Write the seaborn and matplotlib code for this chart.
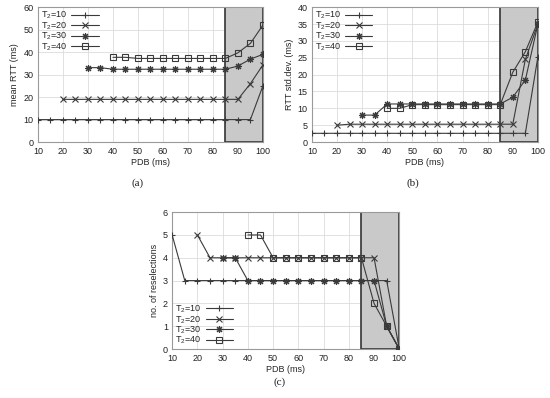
import matplotlib
matplotlib.use("Agg")
import matplotlib.pyplot as plt
import seaborn as sns

# ---------------- data ----------------
pdb_10 = [10, 15, 20, 25, 30, 35, 40, 45, 50, 55, 60, 65, 70, 75, 80, 85, 90, 95, 100]
pdb_20 = [20, 25, 30, 35, 40, 45, 50, 55, 60, 65, 70, 75, 80, 85, 90, 95, 100]
pdb_30 = [30, 35, 40, 45, 50, 55, 60, 65, 70, 75, 80, 85, 90, 95, 100]
pdb_40 = [40, 45, 50, 55, 60, 65, 70, 75, 80, 85, 90, 95, 100]

series_labels = ["T$_2$=10", "T$_2$=20", "T$_2$=30", "T$_2$=40"]

# (a) mean RTT (ms)
rtt_t10 = [10, 10, 10, 10, 10, 10, 10, 10, 10, 10, 10, 10, 10, 10, 10, 10, 10, 10, 25]
rtt_t20 = [19, 19, 19, 19, 19, 19, 19, 19, 19, 19, 19, 19, 19, 19, 19, 26, 34.3]
rtt_t30 = [33.1, 33.1, 32.4, 32.4, 32.4, 32.4, 32.4, 32.4, 32.4, 32.4, 32.4, 32.4, 33.8, 36.9, 39]
rtt_t40 = [37.7, 37.7, 37.2, 37.2, 37.2, 37.2, 37.2, 37.2, 37.2, 37.2, 39.7, 43.9, 52]

# (b) RTT std.dev. (ms)
sd_t10 = [2.6, 2.6, 2.6, 2.6, 2.6, 2.6, 2.6, 2.6, 2.6, 2.6, 2.6, 2.6, 2.6, 2.6, 2.6, 2.6, 2.6, 2.6, 25.3]
sd_t20 = [5.0, 5.3, 5.3, 5.3, 5.3, 5.3, 5.3, 5.3, 5.3, 5.3, 5.3, 5.3, 5.3, 5.3, 5.3, 24.5, 35]
sd_t30 = [8.0, 8.0, 11.3, 11.3, 11.3, 11.3, 11.3, 11.3, 11.3, 11.3, 11.3, 11.3, 13.3, 18.4, 35]
sd_t40 = [10.0, 10.0, 11.1, 11.1, 11.1, 11.1, 11.1, 11.1, 11.1, 11.1, 20.7, 26.8, 35.6]

# (c) number of reselections
rs_t10 = [5, 3, 3, 3, 3, 3, 3, 3, 3, 3, 3, 3, 3, 3, 3, 3, 3, 3, 0]
rs_t20 = [5, 4, 4, 4, 4, 4, 4, 4, 4, 4, 4, 4, 4, 4, 4, 1, 0]
rs_t30 = [4, 4, 3, 3, 3, 3, 3, 3, 3, 3, 3, 3, 3, 1, 0]
rs_t40 = [5, 5, 4, 4, 4, 4, 4, 4, 4, 4, 2, 1, 0]

x_ticks = [10, 20, 30, 40, 50, 60, 70, 80, 90, 100]
shade_from, shade_to = 85, 100

# ---------------- style ----------------
sns.set_style("whitegrid")
plt.rcParams["font.family"] = ["Liberation Sans", "DejaVu Sans"]
plt.rcParams["mathtext.fontset"] = "custom"
plt.rcParams["mathtext.rm"] = "Liberation Sans"
plt.rcParams["mathtext.it"] = "Liberation Sans"

LINE = "#3a3a3a"
FS = 6.5
markers = [
    dict(marker="+", markersize=5, mew=0.8),
    dict(marker="x", markersize=4, mew=0.8),
    dict(marker=(8, 2, 0), markersize=5, mew=0.8),
    dict(marker="s", markersize=4.2, mew=0.8, fillstyle="none"),
]

fig = plt.figure(figsize=(5.5, 3.98), dpi=100)
ax_a = fig.add_axes([0.069, 0.643, 0.409, 0.339])
ax_b = fig.add_axes([0.567, 0.643, 0.411, 0.339])
ax_c = fig.add_axes([0.313, 0.123, 0.413, 0.344])


def draw(ax, xs, ys, ylim, yticks, ylabel, legend_anchor, legend_loc):
    ax.set_axisbelow(True)
    ax.grid(True, color="#dcdcdc", lw=0.6)
    ax.axvspan(shade_from, shade_to, facecolor="#c9c9c9", edgecolor="#333333",
               lw=1.2, zorder=1)
    for x, y, lab, mk in zip(xs, ys, series_labels, markers):
        sns.lineplot(x=x, y=y, ax=ax, color=LINE, lw=0.8, label=lab,
                     markeredgecolor=LINE, zorder=3, **mk)
    ax.set_xlim(10, 100)
    ax.set_ylim(*ylim)
    ax.set_xticks(x_ticks)
    ax.set_yticks(yticks)
    ax.tick_params(labelsize=FS, length=0, colors="#222222")
    ax.tick_params(axis="x", pad=3.5)
    ax.tick_params(axis="y", pad=3)
    ax.set_xlabel("PDB (ms)", fontsize=FS, labelpad=1.5)
    ax.set_ylabel(ylabel, fontsize=FS, labelpad=3)
    for s in ax.spines.values():
        s.set_color("#9a9a9a")
        s.set_linewidth(0.8)
    leg = ax.legend(loc=legend_loc, bbox_to_anchor=legend_anchor, frameon=False,
                    fontsize=FS, markerfirst=False, handlelength=3.0,
                    labelspacing=-0.12, borderpad=0.1, handletextpad=0.5,
                    borderaxespad=0.2)
    return leg


draw(ax_a, [pdb_10, pdb_20, pdb_30, pdb_40],
     [rtt_t10, rtt_t20, rtt_t30, rtt_t40],
     (0, 60), [0, 10, 20, 30, 40, 50, 60], "mean RTT (ms)",
     (0.0, 1.0), "upper left")
draw(ax_b, [pdb_10, pdb_20, pdb_30, pdb_40],
     [sd_t10, sd_t20, sd_t30, sd_t40],
     (0, 40), [0, 5, 10, 15, 20, 25, 30, 35, 40], "RTT std.dev. (ms)",
     (0.0, 1.0), "upper left")
draw(ax_c, [pdb_10, pdb_20, pdb_30, pdb_40],
     [rs_t10, rs_t20, rs_t30, rs_t40],
     (0, 6), [0, 1, 2, 3, 4, 5, 6], "no. of reselections",
     (0.0, 0.0), "lower left")

cap = dict(fontsize=8, family=["Liberation Serif", "DejaVu Serif"],
           ha="center", va="center", color="#222222")
fig.text(138 / 550, 1 - 183 / 398, "(a)", **cap)
fig.text(413 / 550, 1 - 183 / 398, "(b)", **cap)
fig.text(280 / 550, 1 - 382 / 398, "(c)", **cap)

fig.savefig("out.png", dpi=100)
